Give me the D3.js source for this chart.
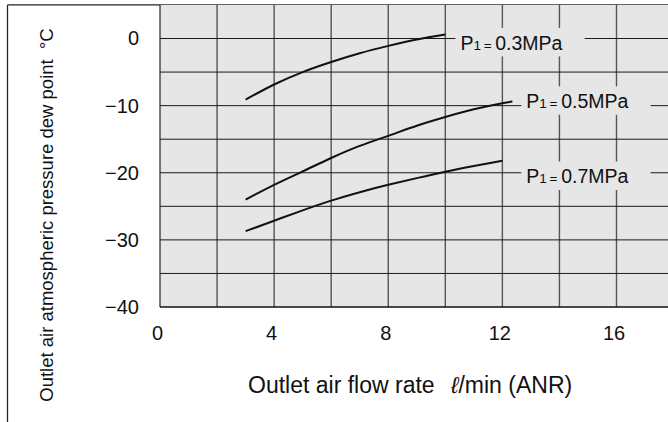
<!DOCTYPE html>
<html>
<head>
<meta charset="utf-8">
<script src="https://cdn.jsdelivr.net/npm/d3@7/dist/d3.min.js"></script>
<style>
  html, body { margin: 0; padding: 0; background: #fff; }
  svg { display: block; font-family: "Liberation Sans", Arial, Helvetica, sans-serif; }
</style>
</head>
<body>
<svg id="chart" width="668" height="422"></svg>
<script>
// Outlet air flow rate (l/min ANR) vs. atmospheric pressure dew point (°C)
const flowTicks = [0, 4, 8, 12, 16];
const dewTicks = [-40, -30, -20, -10, 0];
const pressures = ["0.3", "0.5", "0.7"];

const flow03 = [3, 4, 5, 6, 7, 8, 9, 10];
const dew03  = [-9.1, -6.85, -5.0, -3.5, -2.2, -1.1, -0.15, 0.6];

const flow05 = [3, 4, 5, 6, 7, 8, 9, 10, 11, 12, 12.35];
const dew05  = [-24.0, -21.8, -19.8, -17.8, -16.0, -14.5, -13.0, -11.7, -10.55, -9.65, -9.4];

const flow07 = [3, 4, 5, 6, 7, 8, 9, 10, 11, 12];
const dew07  = [-28.7, -27.15, -25.6, -24.15, -22.9, -21.8, -20.8, -19.85, -19.0, -18.2];

// where each pressure label sits (flow, dew point of its baseline)
const labelFlow = [10.53, 12.84, 12.84];
const labelDew  = [-1.7, -10.4, -21.6];

const series = [
  { flow: flow03, dew: dew03 },
  { flow: flow05, dew: dew05 },
  { flow: flow07, dew: dew07 }
];

const W = 668, H = 422;
const svg = d3.select("#chart");

const x = d3.scaleLinear().domain([0, 16]).range([160, 616.5]);
const y = d3.scaleLinear().domain([-40, 0]).range([307, 38.5]);
const yTop = 5;

// outer frame (top and left edges)
svg.append("line").attr("x1", 7.5).attr("x2", W).attr("y1", y(yTop)).attr("y2", y(yTop))
  .attr("stroke", "#222").attr("stroke-width", 1.3);
svg.append("line").attr("x1", 7.5).attr("x2", 7.5).attr("y1", y(yTop)).attr("y2", H)
  .attr("stroke", "#222").attr("stroke-width", 1.3);

// plot background
svg.append("rect")
  .attr("x", x(0)).attr("y", y(yTop))
  .attr("width", W - x(0)).attr("height", y(-40) - y(yTop))
  .attr("fill", "#e6e6e6");

// grid
const grid = svg.append("g");
grid.selectAll("line.v")
  .data(d3.range(2, 18, 2).filter(v => x(v) < W))
  .join("line").attr("class", "v")
  .attr("x1", d => x(d)).attr("x2", d => x(d))
  .attr("y1", y(yTop)).attr("y2", y(-40))
  .attr("stroke", "#555").attr("stroke-width", 1.4);
grid.selectAll("line.h")
  .data(d3.range(-35, 5, 5))
  .join("line").attr("class", "h")
  .attr("x1", x(0)).attr("x2", W)
  .attr("y1", d => y(d)).attr("y2", d => y(d))
  .attr("stroke", "#1a1a1a").attr("stroke-width", 1);

// plot edges
svg.append("line").attr("x1", x(0)).attr("x2", x(0)).attr("y1", y(yTop)).attr("y2", y(-40))
  .attr("stroke", "#222").attr("stroke-width", 1.2);
svg.append("line").attr("x1", x(0)).attr("x2", W).attr("y1", y(-40)).attr("y2", y(-40))
  .attr("stroke", "#111").attr("stroke-width", 1.3);

// label backgrounds go under the text but over the grid
const maskG = svg.append("g");

// curves
const line = d3.line()
  .x(d => x(d[0])).y(d => y(d[1]))
  .curve(d3.curveNatural);
svg.append("g").selectAll("path")
  .data(series)
  .join("path")
  .attr("d", s => line(s.flow.map((f, i) => [f, s.dew[i]])))
  .attr("fill", "none")
  .attr("stroke", "#111")
  .attr("stroke-width", 2);

// pressure labels
const labG = svg.append("g");
pressures.forEach((p, i) => {
  const lx = x(labelFlow[i]), ly = y(labelDew[i]);
  const t = labG.append("text").attr("x", lx).attr("y", ly)
    .attr("fill", "#111").attr("font-size", 19.5);
  t.append("tspan").text("P");
  t.append("tspan").attr("font-size", 13.5).text("1\u2009=\u2009");
  t.append("tspan").attr("dx", 1).text(p + "MPa");
  const bb = t.node().getBBox();
  maskG.append("rect")
    .attr("x", bb.x - 5).attr("width", bb.width + 27)
    .attr("y", ly - 22).attr("height", 28.5)
    .attr("fill", "#e6e6e6");
});

// y axis
const yAxis = svg.append("g")
  .attr("transform", `translate(${x(0)},0)`)
  .call(d3.axisLeft(y).tickValues(dewTicks).tickSize(0).tickPadding(21));
yAxis.select(".domain").remove();
yAxis.selectAll("text")
  .attr("font-size", 20).attr("fill", "#111")
  .attr("font-family", "\"Liberation Sans\", Arial, sans-serif");

// x axis
const xAxis = svg.append("g")
  .attr("transform", `translate(0,${y(-40)})`)
  .call(d3.axisBottom(x).tickValues(flowTicks).tickSize(0).tickPadding(19));
xAxis.select(".domain").remove();
xAxis.selectAll("text")
  .attr("font-size", 20).attr("fill", "#111").attr("dx", -3)
  .attr("font-family", "\"Liberation Sans\", Arial, sans-serif");

// axis titles
svg.append("text")
  .attr("x", 248).attr("y", 393)
  .attr("font-size", 23).attr("fill", "#111")
  .text("Outlet air flow rate");
const unit = svg.append("text")
  .attr("x", 451).attr("y", 393)
  .attr("font-size", 23).attr("fill", "#111");
unit.append("tspan").attr("font-style", "italic").text("\u2113");
unit.append("tspan").text("/min (ANR)");

svg.append("text")
  .attr("transform", "translate(53,215) rotate(-90)")
  .attr("text-anchor", "middle")
  .attr("font-size", 18.5).attr("fill", "#111")
  .attr("xml:space", "preserve")
  .style("white-space", "pre")
  .text("Outlet air atmospheric pressure dew point  \u00b0C");
</script>
</body>
</html>
